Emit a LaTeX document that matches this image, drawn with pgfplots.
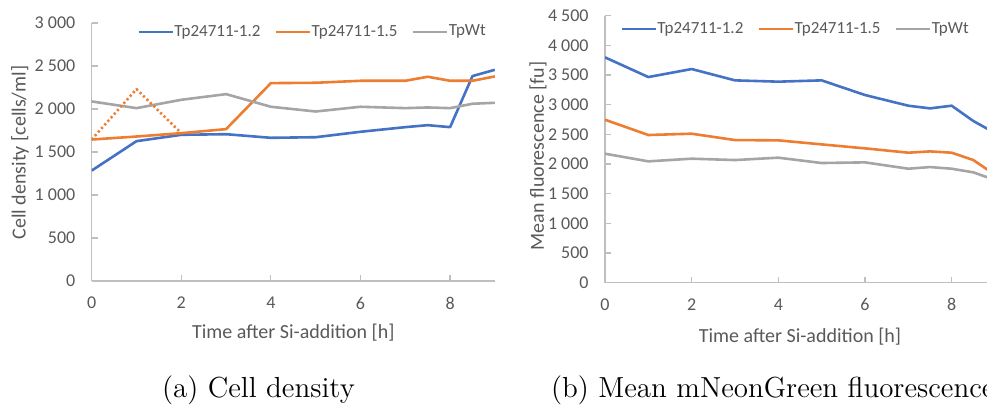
\documentclass[border=0pt]{standalone}
\usepackage{fontspec}
\newfontfamily\carlito{Carlito}
\usepackage{pgfplots}
\pgfplotsset{compat=1.18}
\definecolor{cblue}{HTML}{4472C4}
\definecolor{corange}{HTML}{ED7D31}
\definecolor{cgray}{HTML}{A5A5A5}
\definecolor{axgray}{HTML}{BFBFBF}
\definecolor{txtgray}{HTML}{595959}

\tikzset{labfont/.style={font=\carlito\fontsize{10}{12}\selectfont\color{txtgray}}}
\pgfplotsset{
 exstyle/.style={
  scale only axis,
  axis lines=left,
  axis line style={-, axgray, line width=0.6pt},
  tick style={axgray, line width=0.6pt},
  tick align=inside,
  major tick length=3pt,
  xmin=0, xmax=9,
  xtick={0,2,4,6,8},
  ymin=0,
  /pgf/number format/assume math mode=true,
  /pgf/number format/1000 sep={\ },
  ticklabel style={font=\carlito\fontsize{9}{10}\selectfont\color{txtgray}, inner sep=0pt},
  yticklabel style={xshift=-8pt},
  xticklabel style={yshift=-7.8pt},
  legend style={draw=none, fill=none, font=\carlito\fontsize{8.5}{10}\selectfont\color{txtgray}, anchor=west, inner sep=0pt,
    nodes={inner sep=0pt},
    /tikz/every odd column/.append style={column sep=0.3pt},
    /tikz/every even column/.append style={column sep=7pt}},
  legend columns=3,
  legend image code/.code={\draw[##1] (0pt,0pt) -- (17pt,0pt);},
  every axis plot/.append style={line width=1.3pt, line join=round},
 }
}

\begin{document}
\begin{tikzpicture}
% (a) Cell density
\begin{axis}[exstyle,
  at={(45.85pt,63pt)}, anchor=south west,
  width=201.6pt, height=129pt,
  ymax=3000, ytick={0,500,...,3000},
  xlabel={Time after Si-addition [h]},
  ylabel={Cell density [cells/ml]},
  every axis x label/.style={at={(axis description cs:0.5,-0.221)}, anchor=base, labfont},
  every axis y label/.style={at={(axis description cs:-0.178,0.498)}, rotate=90, anchor=center, labfont},
  legend style={at={(0.112,0.965)}},
]
\addplot[cblue] coordinates {(0,1284)(1,1626)(2,1700)(3,1707)(4,1665)(5,1672)(6,1735)(7,1789)(7.5,1812)(8,1789)(8.5,2383)(9,2456)};
\addlegendentry{Tp24711-1.2}
\addplot[corange] coordinates {(0,1645)(1,1680)(2,1719)(3,1766)(4,2301)(5,2305)(6,2328)(7,2328)(7.5,2375)(8,2328)(8.5,2328)(9,2379)};
\addlegendentry{Tp24711-1.5}
\addplot[cgray] coordinates {(0,2088)(1,2010)(2,2107)(3,2173)(4,2026)(5,1971)(6,2026)(7,2010)(7.5,2018)(8,2010)(8.5,2061)(9,2072)};
\addlegendentry{TpWt}
\addplot[corange, dash pattern=on 1.1pt off 1.3pt, forget plot] coordinates {(0,1645)(1,2231)(2,1719)};
\end{axis}

% (b) Mean fluorescence
\begin{axis}[exstyle,
  at={(302.5pt,62.15pt)}, anchor=south west,
  width=195pt, height=133.5pt,
  ymax=4500, ytick={0,500,...,4500},
  xlabel={Time after Si-addition [h]},
  ylabel={Mean fluorescence [fu]},
  every axis x label/.style={at={(axis description cs:0.5,-0.225)}, anchor=base, labfont},
  every axis y label/.style={at={(axis description cs:-0.1715,0.475)}, rotate=90, anchor=center, labfont},
  legend style={at={(0.038,0.95)}},
]
\addplot[cblue] coordinates {(0,3798)(1,3466)(2,3601)(3,3410)(4,3388)(5,3410)(6,3163)(7,2983)(7.5,2938)(8,2983)(8.5,2725)(9,2523)};
\addlegendentry{Tp24711-1.2}
\addplot[corange] coordinates {(0,2747)(1,2489)(2,2511)(3,2404)(4,2399)(5,2331)(6,2264)(7,2191)(7.5,2213)(8,2191)(8.5,2067)(9,1820)};
\addlegendentry{Tp24711-1.5}
\addplot[cgray] coordinates {(0,2174)(1,2045)(2,2090)(3,2067)(4,2107)(5,2017)(6,2028)(7,1921)(7.5,1949)(8,1921)(8.5,1860)(9,1730)};
\addlegendentry{TpWt}
\end{axis}

\node[anchor=base west, inner sep=0pt, font=\fontsize{14.5}{16}\selectfont] at (80.85pt,4.5pt) {(a) Cell density};
\node[anchor=base west, inner sep=0pt, font=\fontsize{14.5}{16}\selectfont] at (275.3pt,4.5pt) {(b) Mean mNeonGreen fluorescence};

\pgfresetboundingbox
\useasboundingbox (0,0) rectangle (493.5pt,203.5pt);
\end{tikzpicture}
\end{document}
